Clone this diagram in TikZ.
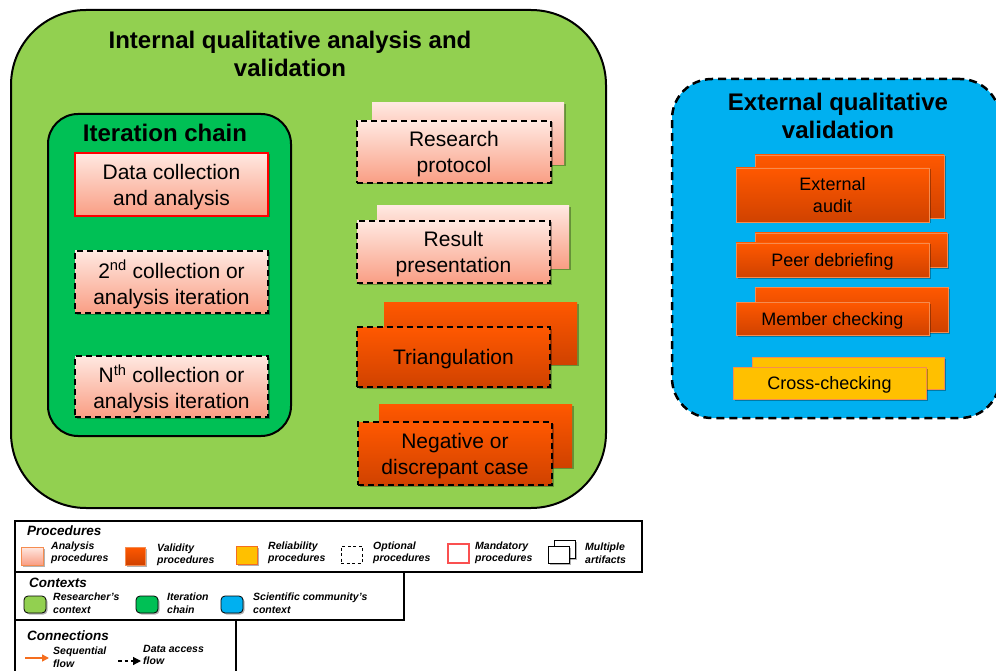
\documentclass[tikz,border=0pt]{standalone}
\usepackage{fontspec}
\setmainfont{Liberation Sans}
\usetikzlibrary{shadows,arrows.meta}
\definecolor{lgreen}{RGB}{146,208,80}
\definecolor{dgreen}{RGB}{0,192,85}
\definecolor{skyblue}{RGB}{0,176,240}
\definecolor{anatop}{RGB}{255,232,225}
\definecolor{anabot}{RGB}{249,158,132}
\definecolor{valtop}{RGB}{255,88,0}
\definecolor{valbot}{RGB}{208,66,0}
\definecolor{relfill}{RGB}{255,192,0}
\definecolor{edgeor}{RGB}{245,140,80}
\definecolor{seqor}{RGB}{245,110,30}
\tikzset{
  ctxbox/.style={draw=black, line width=2pt, inner sep=0pt},
  procbox/.style={inner sep=0pt, align=center, text depth=0pt, font=\fontsize{21}{26}\selectfont},
  extbox/.style={inner sep=0pt, align=center, font=\fontsize{18}{22}\selectfont},
  ana/.style={top color=anatop, bottom color=anabot},
  val/.style={top color=valtop, bottom color=valbot},
  rel/.style={fill=relfill},
  optional/.style={draw=black, line width=2pt, dash pattern=on 6pt off 4pt},
  mandatory/.style={draw=red, line width=2.5pt},
  thinedge/.style={draw=edgeor, line width=0.7pt},
  shade/.style={drop shadow={shadow xshift=1.5pt, shadow yshift=-1.5pt, opacity=0.3, fill=black}},
  title/.style={font=\fontsize{24}{28}\selectfont\bfseries, align=center},
  legframe/.style={draw=black, line width=2.5pt, inner sep=0pt},
  legtitle/.style={anchor=west, inner sep=0pt, font=\fontsize{13.5}{15}\selectfont\bfseries\itshape},
  leglabel/.style={anchor=west, inner sep=0pt, align=left, font=\fontsize{10.5}{12.5}\selectfont\bfseries\itshape},
  swatch/.style={inner sep=0pt, minimum width=21pt, minimum height=18pt},
}
\begin{document}
\begin{tikzpicture}[x=1pt, y=-1pt]
\useasboundingbox (0,0) rectangle (996,671);
\clip (0,0) rectangle (996,671);

% ---------- Internal context ----------
\node[ctxbox, fill=lgreen, rounded corners=75pt, minimum width=595pt, minimum height=498pt] (internal) at (308.5,259) {};
\node[title] (internaltitle) at (290,54) {Internal qualitative analysis and\\validation};

% Iteration chain
\node[ctxbox, fill=dgreen, rounded corners=30pt, minimum width=243pt, minimum height=322pt] (chain) at (169.5,275) {};
\node[title] (chaintitle) at (165,133) {Iteration chain};

\node[procbox, ana, mandatory, shade, minimum width=193pt, minimum height=63pt] (data) at (171.5,184.5) {Data collection\\and analysis};
\node[procbox, ana, optional, shade, minimum width=193pt, minimum height=62pt] (second) at (171.5,282) {2\textsuperscript{nd} collection or\\analysis iteration};
\node[procbox, ana, optional, shade, minimum width=193pt, minimum height=61pt] (nth) at (171.5,386.5) {N\textsuperscript{th} collection or\\analysis iteration};

% Middle column
\node[procbox, ana, shade, minimum width=192pt, minimum height=62pt] (protocolback) at (468,134) {};
\node[procbox, ana, optional, shade, minimum width=194pt, minimum height=62pt] (protocol) at (454,152) {Research\\protocol};

\node[procbox, ana, shade, minimum width=192pt, minimum height=62pt] (resultback) at (473,237) {};
\node[procbox, ana, optional, shade, minimum width=193pt, minimum height=62pt] (result) at (453.5,252) {Result\\presentation};

\node[procbox, val, shade, minimum width=193pt, minimum height=62pt] (triback) at (480.5,333) {};
\node[procbox, val, optional, shade, minimum width=193pt, minimum height=60pt] (tri) at (453.5,357) {Triangulation};

\node[procbox, val, shade, minimum width=193pt, minimum height=63pt] (negback) at (475.5,435.5) {};
\node[procbox, val, optional, shade, minimum width=194pt, minimum height=63pt] (neg) at (455,453.5) {Negative or\\discrepant case};

% ---------- External context ----------
\node[ctxbox, fill=skyblue, line width=2.5pt, dash pattern=on 8pt off 5pt, rounded corners=40pt, minimum width=328pt, minimum height=339pt] (external) at (836,248.5) {};
\node[title] (externaltitle) at (838,116) {External qualitative\\validation};

\node[extbox, val, thinedge, shade, minimum width=189pt, minimum height=63pt] (auditback) at (849.5,186.5) {};
\node[extbox, val, thinedge, shade, minimum width=193pt, minimum height=54pt] (audit) at (832.5,195) {External\\audit};

\node[extbox, val, thinedge, shade, minimum width=192pt, minimum height=34pt] (peerback) at (851,250) {};
\node[extbox, val, thinedge, shade, minimum width=193pt, minimum height=34pt, text depth=0pt] (peer) at (832.5,260) {Peer debriefing};

\node[extbox, val, thinedge, shade, minimum width=193pt, minimum height=45pt] (memberback) at (851.5,309.5) {};
\node[extbox, val, thinedge, shade, minimum width=193pt, minimum height=33pt, text depth=0pt] (member) at (832.5,318.5) {Member checking};

\node[extbox, rel, thinedge, shade, minimum width=192pt, minimum height=32pt] (crossback) at (848,373) {};
\node[extbox, rel, thinedge, shade, minimum width=193pt, minimum height=32pt, text depth=0pt] (cross) at (829.5,383) {Cross-checking};

% ---------- Legend ----------
\node[legframe, minimum width=627pt, minimum height=51pt] (procframe) at (328.5,546.5) {};
\node[legframe, minimum width=389pt, minimum height=48pt] (ctxframe) at (209.5,596) {};
\node[legframe, minimum width=221pt, minimum height=54pt] (conframe) at (125.5,647) {};

\node[legtitle] (proctitle) at (27,531) {Procedures};
\node[swatch, ana, draw=edgeor, line width=1pt, minimum width=22pt, shade] (swana) at (32,556) {};
\node[leglabel] (lblana) at (51,553) {Analysis\\procedures};
\node[swatch, val, draw=edgeor, line width=0.7pt, minimum width=20pt, shade] (swval) at (135,556) {};
\node[leglabel] (lblval) at (157,555) {Validity\\procedures};
\node[swatch, rel, draw=seqor, line width=1pt, shade] (swrel) at (246.5,555) {};
\node[leglabel] (lblrel) at (268,553) {Reliability\\procedures};
\node[swatch, fill=white, draw=black, line width=0.8pt, dash pattern=on 3pt off 2.5pt, minimum height=17pt] (swopt) at (351.5,554.5) {};
\node[leglabel] (lblopt) at (373,553) {Optional\\procedures};
\node[swatch, fill=white, draw={rgb,255:red,250;green,80;blue,80}, line width=1.2pt, minimum height=19pt] (swman) at (458.5,553.5) {};
\node[leglabel] (lblman) at (475,553) {Mandatory\\procedures};
\node[swatch, fill=white, draw=black, line width=0.8pt, shade] (swmulback) at (564.5,549) {};
\node[swatch, fill=white, draw=black, line width=0.8pt, minimum height=17pt, shade] (swmul) at (558.5,554.5) {};
\node[leglabel] (lblmul) at (585,553) {Multiple\\artifacts};

\node[legtitle] (ctxtitle) at (29,583) {Contexts};
\node[swatch, fill=lgreen, draw=black, line width=0.8pt, rounded corners=4pt, minimum width=22pt, minimum height=17pt, shade] (swres) at (35,604.5) {};
\node[leglabel] (lblres) at (53,603) {Researcher's\\context};
\node[swatch, fill=dgreen, draw=black, line width=0.8pt, rounded corners=4pt, minimum width=22pt, minimum height=17pt, shade] (swit) at (147,604.5) {};
\node[leglabel] (lblit) at (167,603) {Iteration\\chain};
\node[swatch, fill=skyblue, draw=black, line width=0.8pt, rounded corners=4pt, minimum width=22pt, minimum height=17pt, shade] (swsci) at (232,604.5) {};
\node[leglabel] (lblsci) at (253,603) {Scientific community's\\context};

\node[legtitle] (contitle) at (27,636) {Connections};
\coordinate (seqa) at (25,658);
\coordinate (seqb) at (49,658);
\draw[seqor, line width=1.5pt, -{Triangle[length=7pt,width=7pt]}] (seqa) -- (seqb);
\node[leglabel] (lblseq) at (53,657) {Sequential\\flow};
\coordinate (daa) at (118,661);
\coordinate (dab) at (141,661);
\draw[black, line width=1.2pt, dash pattern=on 3.5pt off 3pt, -{Triangle[length=8pt,width=8pt]}] (daa) -- (dab);
\node[leglabel] (lblda) at (143,655) {Data access\\flow};
\end{tikzpicture}
\end{document}
